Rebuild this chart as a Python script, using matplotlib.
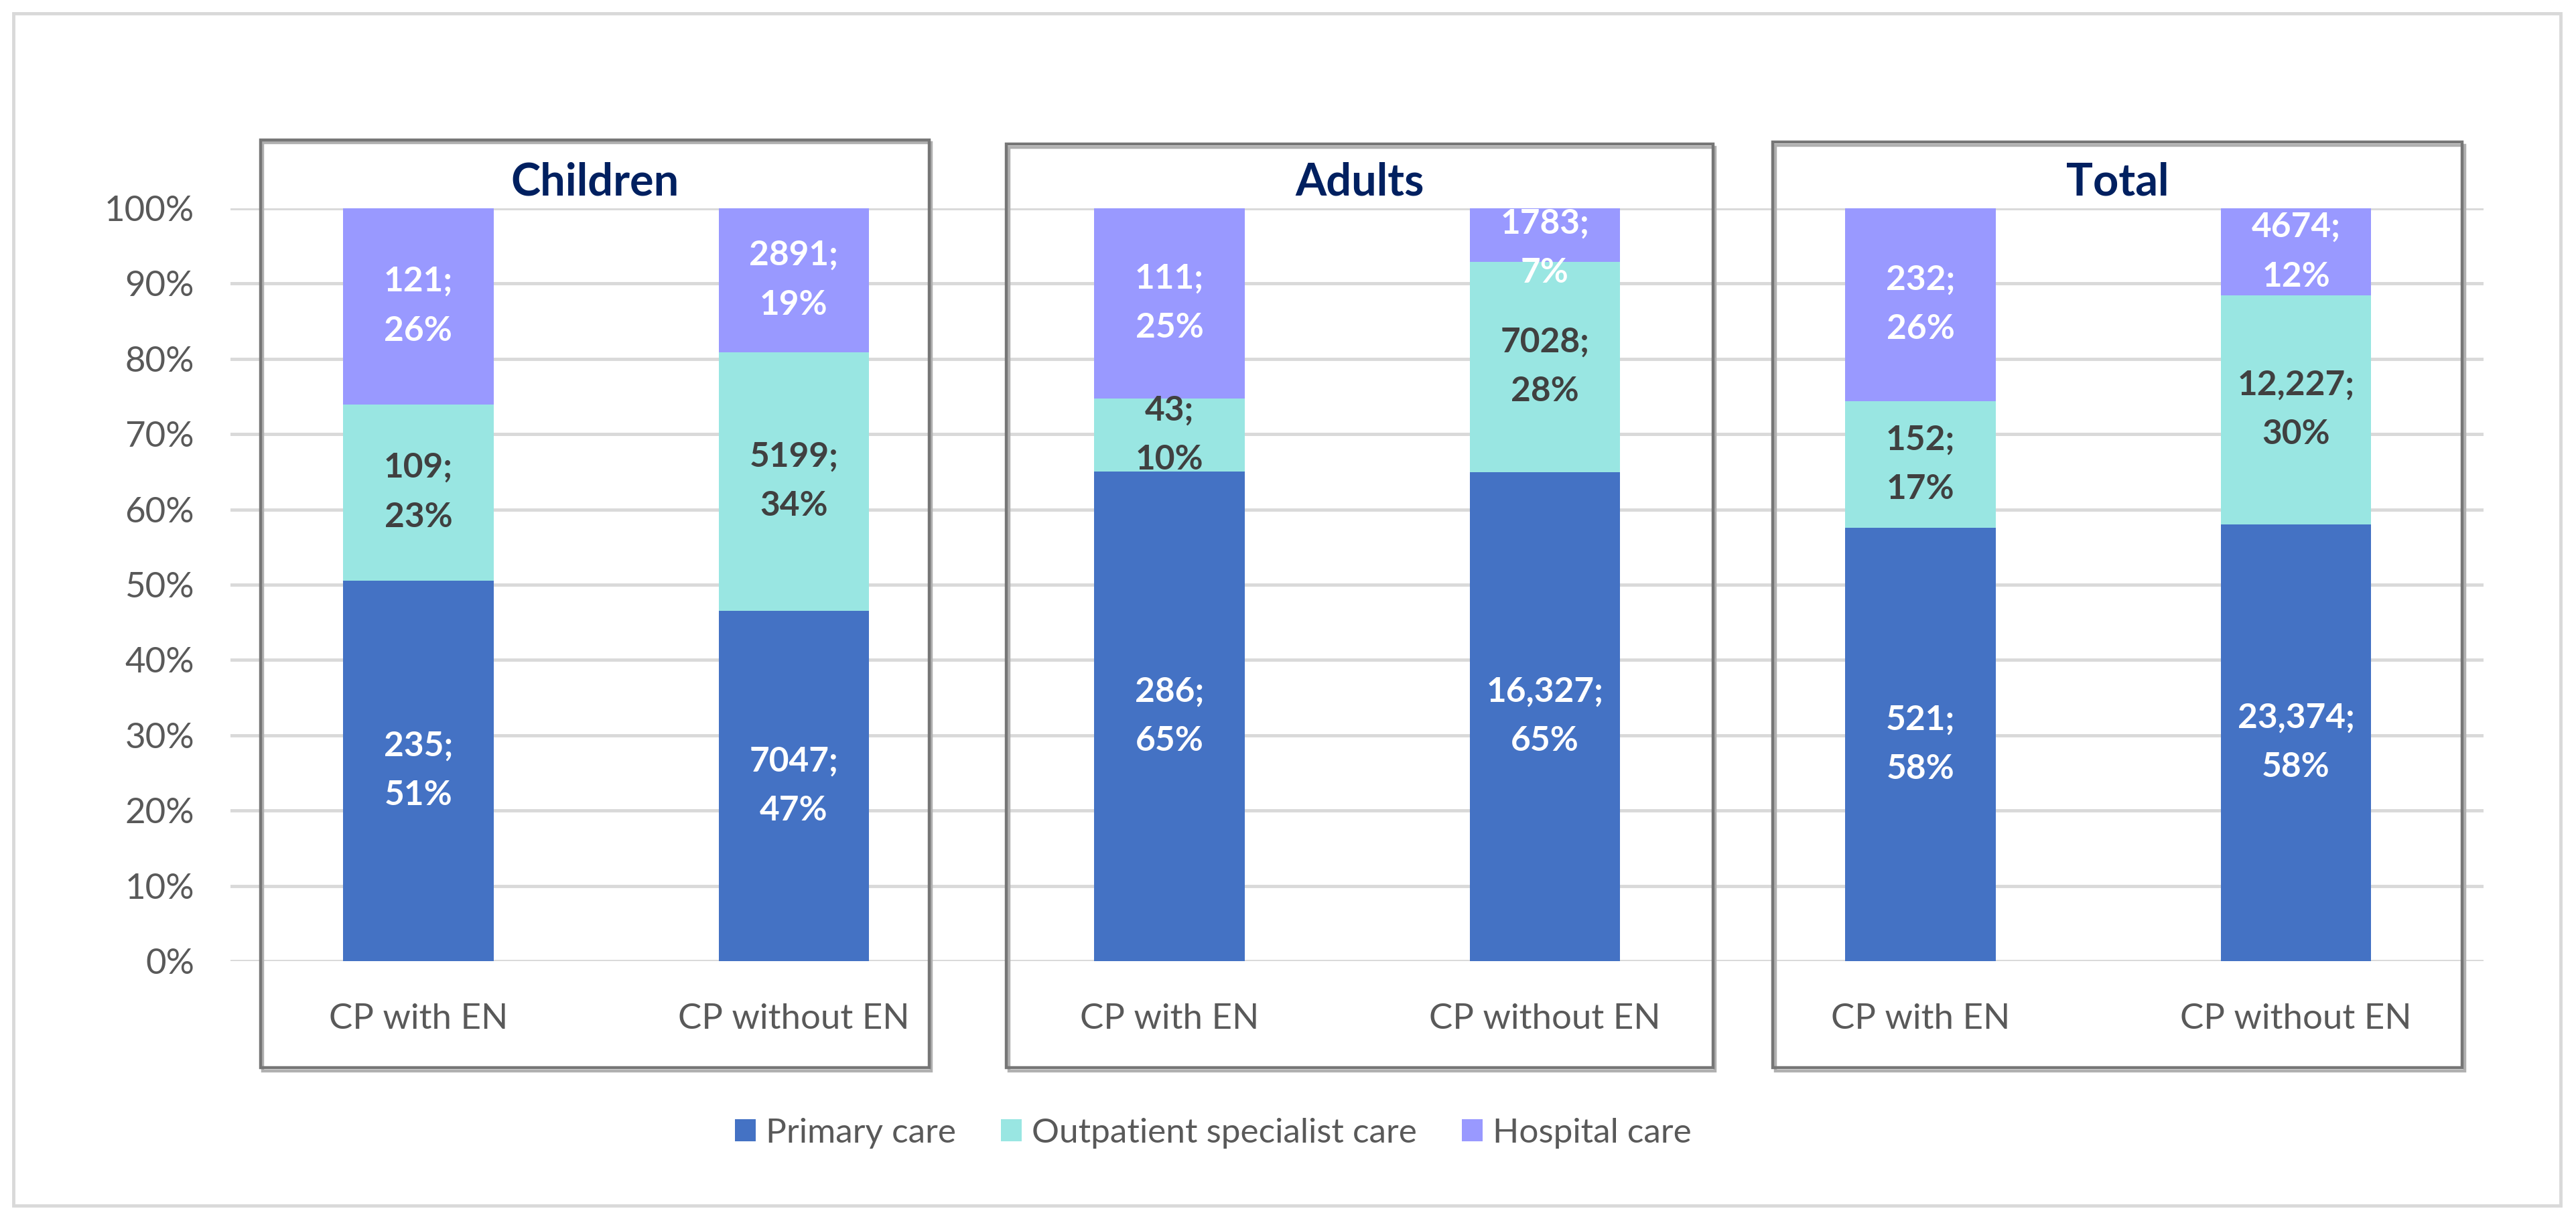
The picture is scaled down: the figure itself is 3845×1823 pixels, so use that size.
import numpy as np
import matplotlib.pyplot as plt
from matplotlib.patches import Rectangle, Patch
from matplotlib.transforms import blended_transform_factory

plt.rcParams['font.family'] = ['Lato', 'DejaVu Sans']

# Data (counts per care setting)
groups = ['Children', 'Adults', 'Total']
categories = ['CP with EN', 'CP without EN',
              'CP with EN', 'CP without EN',
              'CP with EN', 'CP without EN']
primary_care = [235, 7047, 286, 16327, 521, 23374]
outpatient_care = [109, 5199, 43, 7028, 152, 12227]
hospital_care = [121, 2891, 111, 1783, 232, 4674]

series_names = ['Primary care', 'Outpatient specialist care', 'Hospital care']
series_colors = ['#4472C4', '#99E6E2', '#9999FF']
label_colors = ['white', '#404040', 'white']


def fmt_count(v):
    # thousands separator only shows up on 5-digit numbers in the original
    return f'{v:,}' if v >= 10000 else str(v)


counts = np.array([primary_care, outpatient_care, hospital_care], dtype=float)
totals = counts.sum(axis=0)
shares = counts / totals

x = np.arange(len(categories))

fig = plt.figure(figsize=(38.45, 18.23), dpi=100)
ax = fig.add_axes([0.0895, 0.2128, 0.8747, 0.6166])

bottom = np.zeros(len(categories))
for k in range(3):
    ax.bar(x, shares[k], 0.4, bottom=bottom, color=series_colors[k],
           label=series_names[k], zorder=2)
    for i in range(len(categories)):
        txt = f'{fmt_count(int(counts[k, i]))};\n{round(shares[k, i] * 100)}%'
        # keep the label inside the plot area, as Excel does
        yc = min(bottom[i] + shares[k, i] / 2, 1 - 0.053)
        ax.text(x[i], yc, txt, ha='center', va='center',
                fontsize=37, fontweight='bold', color=label_colors[k],
                linespacing=1.7, zorder=4)
    bottom += shares[k]

ax.set_xlim(-0.5, 5.5)
ax.set_ylim(0, 1)
ax.set_yticks(np.arange(0, 1.01, 0.1))
ax.set_yticklabels([f'{int(round(t * 100))}%' for t in np.arange(0, 1.01, 0.1)])
ax.set_xticks(x)
ax.set_xticklabels(categories)
ax.yaxis.grid(True, color='#d9d9d9', linewidth=3.5)
ax.set_axisbelow(True)
for s in ax.spines.values():
    s.set_visible(False)
ax.tick_params(axis='both', length=0, labelsize=38, colors='#595959')
ax.tick_params(axis='y', pad=39)
ax.tick_params(axis='x', pad=45)

# group frames drawn over the axes, like the shapes in the original
trans = blended_transform_factory(ax.transData, ax.transAxes)
box_x = [(-0.42, 1.36), (1.566, 3.448), (3.607, 5.443)]
box_top = [1.091, 1.085, 1.088]
box_bottom = -0.1415
for (x0, x1), top, name in zip(box_x, box_top, groups):
    shadow = Rectangle((x0 + 0.006, box_bottom - 0.004), x1 - x0, top - box_bottom,
                       transform=trans, fill=False, edgecolor='#b0b0b0',
                       linewidth=3.2, clip_on=False, zorder=4)
    ax.add_patch(shadow)
    box = Rectangle((x0, box_bottom), x1 - x0, top - box_bottom, transform=trans,
                    fill=False, edgecolor='#767676', linewidth=3.2,
                    clip_on=False, zorder=5)
    ax.add_patch(box)
    ax.text((x0 + x1) / 2, 1.034, name, transform=trans, ha='center', va='center',
            fontsize=48, fontweight='bold', color='#002060')

handles = [Patch(facecolor=c, edgecolor='none') for c in series_colors]
fig.legend(handles, series_names, loc='center', bbox_to_anchor=(0.471, 0.0719),
           ncol=3, frameon=False, fontsize=37, handlelength=0.6, handleheight=0.6,
           handletextpad=0.3, columnspacing=1.3, labelcolor='#595959')

# light outer frame around the whole chart area
fig.patches.append(Rectangle((0.0052, 0.0126), 0.9888, 0.9764, transform=fig.transFigure,
                             fill=False, edgecolor='#d9d9d9', linewidth=3.5))

fig.savefig('out.png', dpi=100)
